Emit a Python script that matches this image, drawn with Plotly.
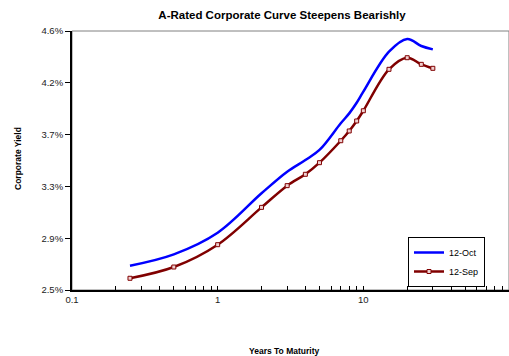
import plotly.graph_objects as go

maturity = [0.25, 0.5, 1, 2, 3, 4, 5, 7, 8, 9, 10, 15, 20, 25, 30]
oct_yield = [2.695, 2.786, 2.959, 3.275, 3.448, 3.541, 3.622, 3.836, 3.915, 4.000, 4.089, 4.409, 4.511, 4.455, 4.428]
sep_yield = [2.594, 2.684, 2.863, 3.162, 3.336, 3.427, 3.520, 3.696, 3.774, 3.854, 3.936, 4.268, 4.361, 4.308, 4.276]

y_tickvals = [2.5, 2.915, 3.33, 3.745, 4.16, 4.575]
y_ticktext = ["2.5%", "2.9%", "3.3%", "3.7%", "4.2%", "4.6%"]

x_tickvals = []
x_ticktext = []
for dec in [0.1, 1, 10]:
    for k in range(1, 10):
        x_tickvals.append(dec * k)
        x_ticktext.append(f"{dec:g}" if k == 1 else "")
x_tickvals.append(100)
x_ticktext.append("100")

FONT = "Arial, Liberation Sans, sans-serif"

fig = go.Figure()
fig.add_trace(go.Scatter(
    x=maturity, y=oct_yield, name="12-Oct", mode="lines",
    line=dict(color="#0000FF", width=2.5, shape="spline"),
))
fig.add_trace(go.Scatter(
    x=maturity, y=sep_yield, name="12-Sep", mode="lines+markers",
    line=dict(color="#800000", width=2.5, shape="spline"),
    marker=dict(symbol="square", size=4, color="#f0d0d0", line=dict(color="#800000", width=1)),
))

fig.update_layout(
    width=509, height=356,
    margin=dict(l=72, r=0, t=31, b=66),
    paper_bgcolor="white", plot_bgcolor="white",
    font=dict(family=FONT, size=9, color="#222"),
    title=dict(text="<b>A-Rated Corporate Curve Steepens Bearishly</b>",
               x=282/509, xanchor="center", y=1-14.5/356, yanchor="middle",
               font=dict(family=FONT, size=11.5, color="black")),
    showlegend=True,
    legend=dict(x=(408-72)/437, y=(290-237)/259, xanchor="left", yanchor="top",
                bgcolor="white", bordercolor="black", borderwidth=1,
                font=dict(family=FONT, size=9, color="black"),
                itemwidth=30, tracegroupgap=0),
    xaxis=dict(type="log", range=[-1, 2], tickmode="array",
               tickvals=x_tickvals, ticktext=x_ticktext,
               ticks="inside", ticklen=4, tickcolor="black", tickwidth=1,
               showgrid=False, zeroline=False,
               showline=True, linecolor="black", linewidth=2,
               automargin=False, tickfont=dict(size=9.5, color="#222")),
    yaxis=dict(range=[2.5, 4.575], tickmode="array",
               tickvals=y_tickvals, ticktext=y_ticktext,
               ticks="outside", ticklen=5, tickcolor="black", tickwidth=1,
               showgrid=False, zeroline=False,
               showline=True, linecolor="black", linewidth=2,
               automargin=False, tickfont=dict(size=9.5, color="#222")),
    shapes=[dict(type="rect", xref="paper", yref="paper", x0=0, x1=1, y0=0, y1=1,
                 line=dict(color="#808080", width=1), layer="below")],
    annotations=[
        dict(text="<b>Years To Maturity</b>", xref="paper", yref="paper",
             x=(284-72)/437, y=-(350.5-290)/259, xanchor="center", yanchor="middle",
             showarrow=False, font=dict(family=FONT, size=8.5, color="black")),
        dict(text="<b>Corporate Yield</b>", xref="paper", yref="paper",
             x=-(72-18)/437, y=(290-159)/259, xanchor="center", yanchor="middle",
             textangle=-90, showarrow=False, font=dict(family=FONT, size=8.5, color="black")),
    ],
)

fig.write_html("out.html", config={"displayModeBar": False},
               post_script="document.body.style.margin='0';")
